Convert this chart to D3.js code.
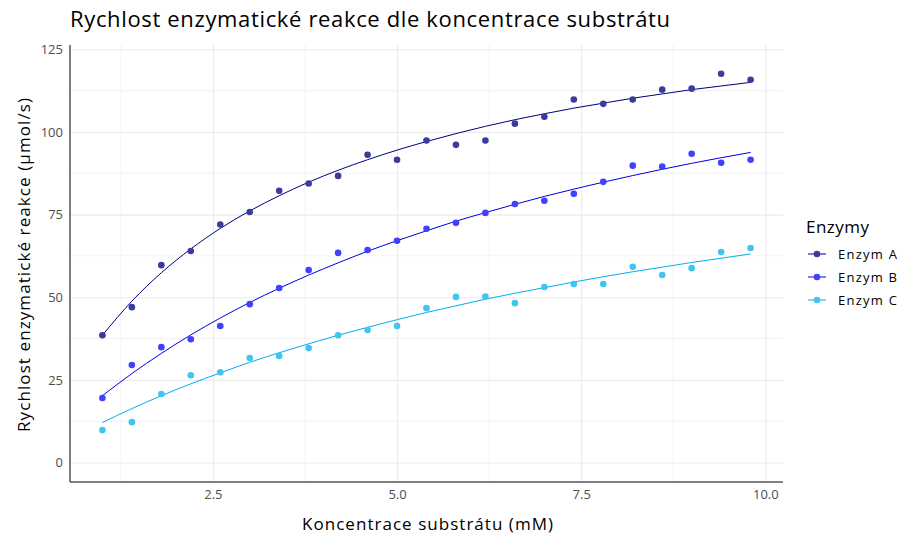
<!DOCTYPE html>
<html>
<head>
<meta charset="utf-8">
<script src="https://cdn.jsdelivr.net/npm/d3@7"></script>
<style>
  body { margin: 0; background: #fff; }
  text { font-family: "Open Sans", sans-serif; }
</style>
</head>
<body>
<script>
const width = 915
const height = 552
const margin = { top: 45, right: 132, bottom: 70, left: 70 }
const innerWidth = width - margin.left - margin.right
const innerHeight = height - margin.top - margin.bottom

const concentration = [1.0, 1.4, 1.8, 2.2, 2.6, 3.0, 3.4, 3.8, 4.2, 4.6, 5.0, 5.4,
  5.8, 6.2, 6.6, 7.0, 7.4, 7.8, 8.2, 8.6, 9.0, 9.4, 9.8]

const enzymes = ['Enzym A', 'Enzym B', 'Enzym C']

// naměřené body
const rateA = [38.5, 47.0, 59.7, 64.0, 72.0, 75.8, 82.2, 84.4, 86.7, 93.1, 91.6, 97.4,
  96.1, 97.4, 102.5, 104.6, 109.8, 108.5, 109.8, 112.8, 113.1, 117.6, 115.8]
const rateB = [19.5, 29.5, 34.9, 37.3, 41.3, 47.9, 52.8, 58.2, 63.4, 64.3, 67.1, 70.7,
  72.5, 75.5, 78.2, 79.2, 81.3, 84.9, 89.8, 89.5, 93.4, 90.7, 91.6]
const rateC = [9.8, 12.2, 20.7, 26.4, 27.3, 31.6, 32.2, 34.6, 38.5, 40.1, 41.3, 46.7,
  50.1, 50.2, 48.2, 53.1, 54.0, 54.0, 59.2, 56.7, 58.8, 63.7, 64.9]

// proložené křivky
const fitA = [38.5, 48.8, 57.4, 64.6, 70.8, 76.1, 80.7, 84.8, 88.4, 91.6, 94.5, 97.1,
  99.5, 101.7, 103.7, 105.5, 107.2, 108.7, 110.2, 111.5, 112.8, 113.9, 115.0]
const fitB = [20.2, 26.9, 33.0, 38.6, 43.7, 48.4, 52.7, 56.7, 60.4, 63.9, 67.1, 70.1,
  73.0, 75.6, 78.1, 80.5, 82.7, 84.8, 86.8, 88.7, 90.5, 92.2, 93.8]
const fitC = [12.1, 16.3, 20.2, 23.8, 27.1, 30.3, 33.2, 35.9, 38.5, 40.9, 43.2, 45.4,
  47.4, 49.4, 51.2, 52.9, 54.6, 56.2, 57.7, 59.1, 60.5, 61.8, 63.1]

const xTicks = [2.5, 5.0, 7.5, 10.0]
const yTicks = [0, 25, 50, 75, 100, 125]

const pointColors = ['#3b3b9b', '#4040ff', '#40c4f0']
const lineColors = ['#000080', '#0000e6', '#00aeef']

const series = [
  { name: enzymes[0], rate: rateA, fit: fitA },
  { name: enzymes[1], rate: rateB, fit: fitB },
  { name: enzymes[2], rate: rateC, fit: fitC }
]

const xScale = d3.scaleLinear()
  .domain([0.56, 10.24])
  .range([0, innerWidth])

const yScale = d3.scaleLinear()
  .domain([-5.9, 126.3])
  .range([innerHeight, 0])

const svg = d3.select('body')
  .append('svg')
  .attr('width', width)
  .attr('height', height)

const g = svg.append('g')
  .attr('transform', `translate(${margin.left},${margin.top})`)

// mřížka
const minorX = xTicks.map(t => t - 1.25)
const minorY = yTicks.slice(0, -1).map(t => t + 12.5)

g.selectAll('.minor-x')
  .data(minorX)
  .enter()
  .append('line')
  .attr('x1', d => xScale(d))
  .attr('x2', d => xScale(d))
  .attr('y1', 0)
  .attr('y2', innerHeight)
  .attr('stroke', '#ebebeb')
  .attr('stroke-width', 0.6)

g.selectAll('.minor-y')
  .data(minorY)
  .enter()
  .append('line')
  .attr('x1', 0)
  .attr('x2', innerWidth)
  .attr('y1', d => yScale(d))
  .attr('y2', d => yScale(d))
  .attr('stroke', '#ebebeb')
  .attr('stroke-width', 0.6)

const xAxis = d3.axisBottom(xScale)
  .tickValues(xTicks)
  .tickFormat(d3.format('.1f'))
  .tickSize(-innerHeight)
  .tickPadding(8)

const yAxis = d3.axisLeft(yScale)
  .tickValues(yTicks)
  .tickSize(-innerWidth)
  .tickPadding(7)

const styleAxis = sel => {
  sel.select('.domain').remove()
  sel.selectAll('.tick line').attr('stroke', '#ebebeb').attr('stroke-width', 1.1)
  sel.selectAll('.tick text')
    .attr('fill', '#4d4d4d')
    .style('font-size', '13px')
}

g.append('g')
  .attr('transform', `translate(0,${innerHeight})`)
  .call(xAxis)
  .call(styleAxis)

g.append('g')
  .call(yAxis)
  .call(styleAxis)

// osy
g.append('line')
  .attr('x1', 0).attr('x2', 0)
  .attr('y1', 0).attr('y2', innerHeight)
  .attr('stroke', '#000')
g.append('line')
  .attr('x1', 0).attr('x2', innerWidth)
  .attr('y1', innerHeight).attr('y2', innerHeight)
  .attr('stroke', '#000')

const lineMaker = d3.line()
  .x((d, i) => xScale(concentration[i]))
  .y(d => yScale(d))
  .curve(d3.curveMonotoneX)

g.selectAll('.fit')
  .data(series)
  .enter()
  .append('path')
  .attr('d', s => lineMaker(s.fit))
  .attr('fill', 'none')
  .attr('stroke', (s, i) => lineColors[i])
  .attr('stroke-width', 1)

series.forEach((s, i) => {
  g.selectAll(null)
    .data(s.rate)
    .enter()
    .append('circle')
    .attr('cx', (d, j) => xScale(concentration[j]))
    .attr('cy', d => yScale(d))
    .attr('r', 3.3)
    .attr('fill', pointColors[i])
})

// popisky
svg.append('text')
  .attr('x', 70)
  .attr('y', 27)
  .attr('fill', '#000')
  .attr('textLength', 600)
  .attr('lengthAdjust', 'spacing')
  .style('font-size', '22px')
  .text('Rychlost enzymatické reakce dle koncentrace substrátu')

svg.append('text')
  .attr('x', 302)
  .attr('y', 530)
  .attr('textLength', 251)
  .attr('lengthAdjust', 'spacing')
  .style('font-size', '17px')
  .text('Koncentrace substrátu (mM)')

svg.append('text')
  .attr('transform', `translate(30,432) rotate(-90)`)
  .attr('textLength', 334)
  .attr('lengthAdjust', 'spacing')
  .style('font-size', '17px')
  .text('Rychlost enzymatické reakce (µmol/s)')

// legenda
const legendG = svg.append('g')
  .attr('transform', 'translate(806,233)')

legendG.append('text')
  .attr('x', 0)
  .attr('y', 0)
  .attr('textLength', 63)
  .attr('lengthAdjust', 'spacing')
  .style('font-size', '17px')
  .text('Enzymy')

const legend = legendG.selectAll('.legend')
  .data(enzymes)
  .enter()
  .append('g')
  .attr('transform', (d, i) => `translate(0,${21 + i * 23})`)

legend.append('line')
  .attr('x1', 2).attr('x2', 20)
  .attr('y1', 0).attr('y2', 0)
  .attr('stroke', (d, i) => lineColors[i])
  .attr('stroke-width', 1)

legend.append('circle')
  .attr('cx', 11)
  .attr('cy', 0)
  .attr('r', 3.3)
  .attr('fill', (d, i) => pointColors[i])

legend.append('text')
  .attr('x', 32)
  .attr('y', 4.5)
  .attr('textLength', 59)
  .attr('lengthAdjust', 'spacing')
  .style('font-size', '13px')
  .text(d => d)
</script>
</body>
</html>
